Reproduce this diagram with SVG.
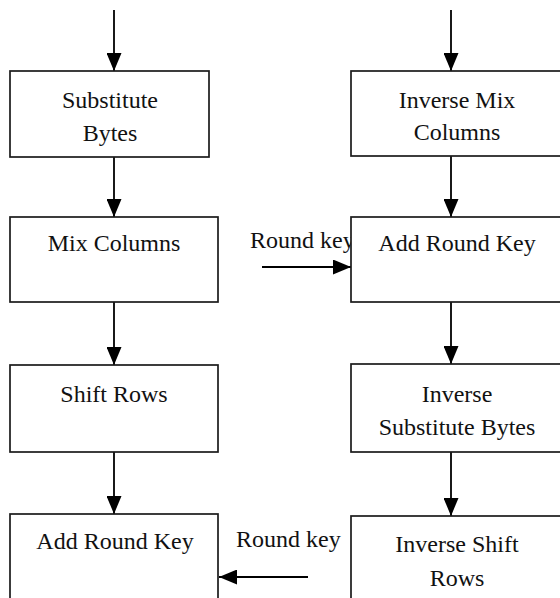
<svg xmlns="http://www.w3.org/2000/svg" width="560" height="598" viewBox="0 0 560 598">
  <defs>
    <marker id="head" viewBox="0 0 18 15" refX="18" refY="7.5" markerWidth="18" markerHeight="15" markerUnits="userSpaceOnUse" orient="auto">
      <path d="M0,0 L18,7.5 L0,15 Z" fill="#000"/>
    </marker>
    <style>
      .box { fill: #fff; stroke: #1a1a1a; stroke-width: 1.7; }
      .lbl { font-family: "Liberation Serif", "Times New Roman", serif; font-size: 24px; fill: #111; text-anchor: middle; }
      .key { font-family: "Liberation Serif", "Times New Roman", serif; font-size: 24px; fill: #111; }
      .edge { stroke: #000; stroke-width: 1.8; fill: none; marker-end: url(#head); }
    </style>
  </defs>
  <rect width="560" height="598" fill="#fff"/>

  <!-- side labels for the round key inputs (sit behind the boxes) -->
  <g id="labels">
    <text class="key" x="250" y="248">Round key</text>
    <text class="key" x="236" y="547">Round key</text>
  </g>

  <g id="connectors">
    <!-- encryption column -->
    <line class="edge" x1="114" y1="10" x2="114" y2="71"/>
    <line class="edge" x1="114" y1="157" x2="114" y2="217"/>
    <line class="edge" x1="114" y1="302" x2="114" y2="365"/>
    <line class="edge" x1="114" y1="452" x2="114" y2="514"/>
    <!-- decryption column -->
    <line class="edge" x1="451" y1="10" x2="451" y2="71"/>
    <line class="edge" x1="451" y1="156" x2="451" y2="217"/>
    <line class="edge" x1="451" y1="302" x2="451" y2="364"/>
    <line class="edge" x1="451" y1="452" x2="451" y2="516"/>
    <!-- round key inputs -->
    <line class="edge" x1="262" y1="267" x2="351" y2="267"/>
    <line class="edge" x1="308" y1="577" x2="219" y2="577"/>
  </g>

  <g id="sub-bytes">
    <rect class="box" x="10" y="71" width="199" height="86"/>
    <text class="lbl" x="110" y="108">Substitute</text>
    <text class="lbl" x="110" y="141">Bytes</text>
  </g>
  <g id="mix-columns">
    <rect class="box" x="10" y="217" width="208" height="85"/>
    <text class="lbl" x="114" y="251">Mix Columns</text>
  </g>
  <g id="shift-rows">
    <rect class="box" x="10" y="365" width="208" height="87"/>
    <text class="lbl" x="114" y="402">Shift Rows</text>
  </g>
  <g id="add-round-key-enc">
    <rect class="box" x="10" y="514" width="208" height="100"/>
    <text class="lbl" x="115" y="549">Add Round Key</text>
  </g>

  <g id="inv-mix-columns">
    <rect class="box" x="351" y="71" width="212" height="85"/>
    <text class="lbl" x="457" y="108">Inverse Mix</text>
    <text class="lbl" x="457" y="140">Columns</text>
  </g>
  <g id="add-round-key-dec">
    <rect class="box" x="351" y="217" width="212" height="85"/>
    <text class="lbl" x="457" y="251">Add Round Key</text>
  </g>
  <g id="inv-sub-bytes">
    <rect class="box" x="351" y="364" width="212" height="88"/>
    <text class="lbl" x="457" y="402">Inverse</text>
    <text class="lbl" x="457" y="435">Substitute Bytes</text>
  </g>
  <g id="inv-shift-rows">
    <rect class="box" x="351" y="516" width="212" height="100"/>
    <text class="lbl" x="457" y="552">Inverse Shift</text>
    <text class="lbl" x="457" y="586">Rows</text>
  </g>
</svg>
